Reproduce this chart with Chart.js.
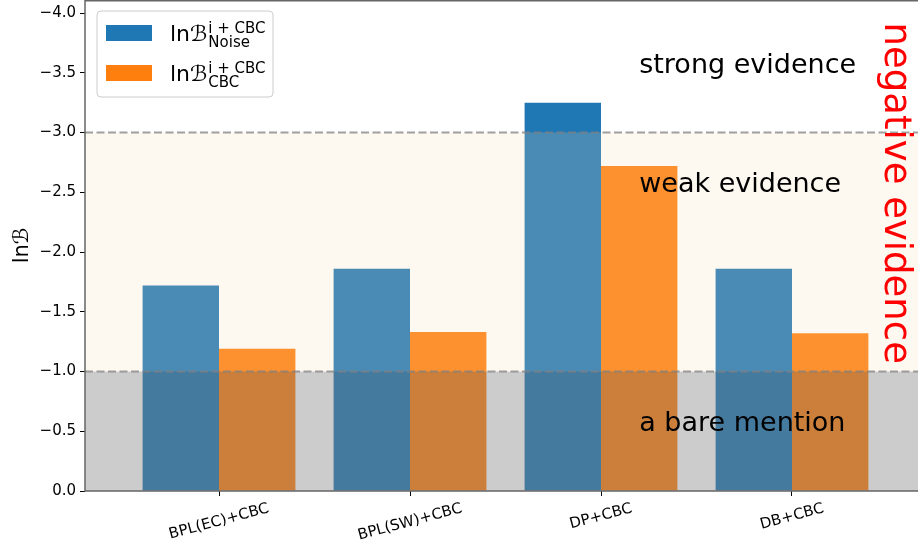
<!DOCTYPE html>
<html>
<head>
<meta charset="utf-8">
<script src="https://cdn.jsdelivr.net/npm/chart.js@4.4.0/dist/chart.umd.min.js"></script>
<style>
  html, body { margin: 0; padding: 0; background: #ffffff; }
  canvas { display: block; }
</style>
</head>
<body>
<canvas id="chart" width="918" height="546"></canvas>
<script>
// Bayes factors for each model, ln B (negative = evidence against)
const categories = ['BPL(EC)+CBC', 'BPL(SW)+CBC', 'DP+CBC', 'DB+CBC'];
const lnBNoise = [-1.72, -1.86, -3.25, -1.86];
const lnBCBC = [-1.19, -1.33, -2.72, -1.32];
const yTickValues = [0, -0.5, -1.0, -1.5, -2.0, -2.5, -3.0, -3.5, -4.0];
const evidenceThresholds = [-1, -3];
const evidenceNames = ['strong evidence', 'weak evidence', 'a bare mention'];
const evidenceLevels = [-3.5, -2.5, -0.5];

const FONT = "'DejaVu Sans', sans-serif";
const BLUE = '#1f77b4';
const ORANGE = '#ff7f0e';
const SPINE = '#666666';

function fmtTick(v) {
  if (Math.abs(v) < 1e-9) return '0.0';
  return (v < 0 ? '\u2212' : '') + Math.abs(v).toFixed(1);
}

// ln B with super/subscripts, drawn as canvas text
function drawLnB(ctx, x, baseline, sup, sub) {
  ctx.textAlign = 'left';
  ctx.textBaseline = 'alphabetic';
  ctx.fillStyle = '#000';
  ctx.font = '22px ' + FONT;
  ctx.fillText('ln', x, baseline);
  let cx = x + ctx.measureText('ln').width;
  ctx.font = 'italic 22px ' + FONT;
  ctx.fillText('\u212C', cx, baseline);
  cx += ctx.measureText('\u212C').width + 1;
  ctx.font = '15px ' + FONT;
  ctx.fillText(sup, cx, baseline - 8.5);
  ctx.fillText(sub, cx, baseline + 6);
}

const decor = {
  id: 'decor',
  afterDatasetsDraw(chart) {
    const { ctx, chartArea: a, scales: { x, y } } = chart;
    ctx.save();
    ctx.beginPath();
    ctx.rect(a.left, a.top, a.right - a.left, a.bottom - a.top);
    ctx.clip();
    const p0 = y.getPixelForValue(0);
    const p1 = y.getPixelForValue(evidenceThresholds[0]);
    const p3 = y.getPixelForValue(evidenceThresholds[1]);
    // evidence bands, translucent over the bars
    ctx.fillStyle = 'rgba(128,128,128,0.4)';
    ctx.fillRect(a.left, p1, a.right - a.left, p0 - p1);
    ctx.fillStyle = 'rgba(245,222,179,0.2)';
    ctx.fillRect(a.left, p3, a.right - a.left, p1 - p3);
    // threshold lines
    ctx.strokeStyle = 'rgba(128,128,128,0.75)';
    ctx.lineWidth = 2;
    ctx.setLineDash([8, 3.5]);
    evidenceThresholds.forEach(t => {
      const py = y.getPixelForValue(t);
      ctx.beginPath();
      ctx.moveTo(a.left, py);
      ctx.lineTo(a.right, py);
      ctx.stroke();
    });
    ctx.setLineDash([]);
    // band names
    ctx.fillStyle = '#000';
    ctx.font = '27px ' + FONT;
    ctx.textAlign = 'left';
    ctx.textBaseline = 'alphabetic';
    evidenceNames.forEach((name, i) => {
      ctx.fillText(name, x.getPixelForValue(2.2), y.getPixelForValue(evidenceLevels[i]));
    });
    // vertical red note
    ctx.save();
    ctx.translate(x.getPixelForValue(3.487), y.getPixelForValue(-3.92));
    ctx.rotate(Math.PI / 2);
    ctx.fillStyle = '#ff0000';
    ctx.font = '37px ' + FONT;
    ctx.fillText('negative evidence', 0, 0);
    ctx.restore();
    ctx.restore();
  },
  afterDraw(chart) {
    const { ctx, chartArea: a, scales: { x } } = chart;
    ctx.save();
    // spines
    ctx.strokeStyle = SPINE;
    ctx.lineWidth = 1.5;
    ctx.beginPath();
    ctx.moveTo(a.left, a.top);
    ctx.lineTo(a.left, a.bottom);
    ctx.lineTo(a.right, a.bottom);
    ctx.moveTo(a.left, a.top + 0.75);
    ctx.lineTo(a.right, a.top + 0.75);
    ctx.stroke();

    // rotated category labels, centred under each tick
    ctx.font = '15px ' + FONT;
    ctx.fillStyle = '#000';
    ctx.textAlign = 'center';
    ctx.textBaseline = 'middle';
    const ang = 15 * Math.PI / 180;
    categories.forEach((c, i) => {
      const px = x.getPixelForValue(i);
      const L = ctx.measureText(c).width;
      const cy = a.bottom + 10 + (L * Math.sin(ang) + 15 * Math.cos(ang)) / 2;
      ctx.save();
      ctx.translate(px, cy);
      ctx.rotate(-ang);
      ctx.fillText(c, 0, 0);
      ctx.restore();
    });

    // y-axis title
    ctx.save();
    ctx.translate(28, (a.top + a.bottom) / 2);
    ctx.rotate(-Math.PI / 2);
    ctx.textAlign = 'left';
    ctx.textBaseline = 'alphabetic';
    ctx.font = '21px ' + FONT;
    const wl = ctx.measureText('ln').width;
    ctx.font = 'italic 21px ' + FONT;
    const wb = ctx.measureText('\u212C').width;
    const start = -(wl + wb) / 2;
    ctx.font = '21px ' + FONT;
    ctx.fillText('ln', start, 0);
    ctx.font = 'italic 21px ' + FONT;
    ctx.fillText('\u212C', start + wl, 0);
    ctx.restore();

    // legend
    const lx = 97, ly = 11, lw = 176, lh = 86, r = 4;
    ctx.beginPath();
    ctx.moveTo(lx + r, ly);
    ctx.arcTo(lx + lw, ly, lx + lw, ly + lh, r);
    ctx.arcTo(lx + lw, ly + lh, lx, ly + lh, r);
    ctx.arcTo(lx, ly + lh, lx, ly, r);
    ctx.arcTo(lx, ly, lx + lw, ly, r);
    ctx.closePath();
    ctx.fillStyle = 'rgba(255,255,255,0.8)';
    ctx.fill();
    ctx.strokeStyle = '#cccccc';
    ctx.lineWidth = 1;
    ctx.stroke();
    ctx.fillStyle = BLUE;
    ctx.fillRect(106, 25, 46, 16);
    ctx.fillStyle = ORANGE;
    ctx.fillRect(106, 65, 46, 16);
    drawLnB(ctx, 170, 41, 'i + CBC', 'Noise');
    drawLnB(ctx, 170, 81, 'i + CBC', 'CBC');
    ctx.restore();
  }
};

new Chart(document.getElementById('chart'), {
  type: 'bar',
  data: {
    datasets: [
      {
        label: 'lnB Noise',
        data: lnBNoise.map((v, i) => ({ x: i, y: v })),
        backgroundColor: BLUE,
        borderWidth: 0
      },
      {
        label: 'lnB CBC',
        data: lnBCBC.map((v, i) => ({ x: i, y: v })),
        backgroundColor: ORANGE,
        borderWidth: 0
      }
    ]
  },
  options: {
    responsive: false,
    animation: false,
    devicePixelRatio: 1,
    layout: { padding: 0 },
    categoryPercentage: 0.8,
    barPercentage: 1.0,
    plugins: { legend: { display: false }, tooltip: { enabled: false } },
    scales: {
      x: {
        type: 'linear',
        offset: false,
        min: -0.7016,
        max: 3.6597,
        afterBuildTicks: s => { s.ticks = categories.map((_, i) => ({ value: i })); },
        afterFit: s => { s.height = 55; s.paddingLeft = 0; s.paddingRight = 0; },
        ticks: { display: false },
        grid: { offset: false, drawOnChartArea: false, drawTicks: true, tickLength: 5, tickColor: '#000', tickWidth: 1 },
        border: { display: false }
      },
      y: {
        type: 'linear',
        reverse: true,
        min: -4.109,
        max: 0,
        afterBuildTicks: s => { s.ticks = yTickValues.map(v => ({ value: v })); },
        afterFit: s => { s.width = 85; s.paddingTop = 0; s.paddingBottom = 0; },
        ticks: {
          callback: v => fmtTick(v),
          font: { family: FONT, size: 15 },
          color: '#000',
          padding: 4
        },
        grid: { drawOnChartArea: false, drawTicks: true, tickLength: 5, tickColor: '#000', tickWidth: 1 },
        border: { display: false }
      }
    }
  },
  plugins: [decor]
});
</script>
</body>
</html>
